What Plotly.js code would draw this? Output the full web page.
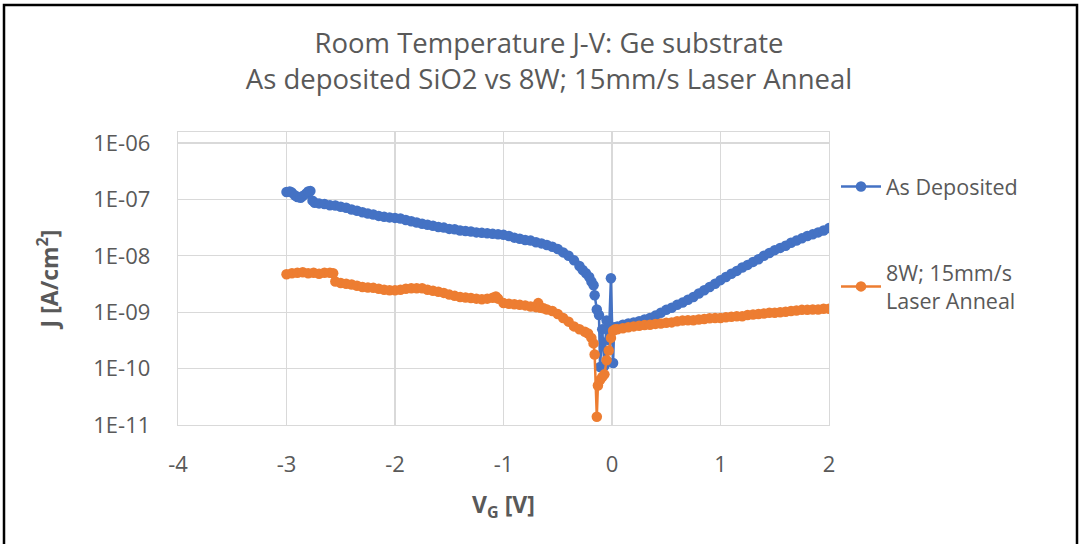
<!DOCTYPE html>
<html>
<head>
<meta charset="utf-8">
<script src="https://cdn.plot.ly/plotly-3.0.1.min.js"></script>
<style>
html,body{margin:0;padding:0;background:#fff;}
#chart{width:1083px;height:544px;}
</style>
</head>
<body>
<div id="chart"></div>
<script>
// ---- Data ----
const seriesNames = ["As Deposited", "8W; 15mm/s<br>Laser Anneal"];

const vAsDep = [-3.00,-2.97,-2.95,-2.92,-2.90,-2.87,-2.85,-2.82,-2.80,-2.78,-2.76,-2.74,-2.70,-2.65,-2.60,-2.55,-2.50,-2.45,-2.40,-2.35,-2.30,-2.25,-2.20,-2.15,-2.10,-2.05,-2.00,-1.95,-1.90,-1.85,-1.80,-1.75,-1.70,-1.65,-1.60,-1.55,-1.50,-1.45,-1.40,-1.35,-1.30,-1.25,-1.20,-1.15,-1.10,-1.05,-1.00,-0.95,-0.90,-0.85,-0.80,-0.75,-0.70,-0.65,-0.60,-0.55,-0.50,-0.45,-0.40,-0.35,-0.30,-0.27,-0.24,-0.21,-0.19,-0.17,-0.16,-0.14,-0.12,-0.11,-0.09,-0.07,-0.05,-0.03,-0.01,0.01,0.02,0.05,0.10,0.15,0.20,0.25,0.30,0.35,0.40,0.45,0.50,0.55,0.60,0.65,0.70,0.75,0.80,0.85,0.90,0.95,1.00,1.05,1.10,1.15,1.20,1.25,1.30,1.35,1.40,1.45,1.50,1.55,1.60,1.65,1.70,1.75,1.80,1.85,1.90,1.95,2.00];
const jAsDep = [1.35e-7,1.38e-7,1.32e-7,1.17e-7,1.10e-7,1.07e-7,1.15e-7,1.26e-7,1.38e-7,1.41e-7,9.5e-8,8.7e-8,8.5e-8,8.3e-8,7.9e-8,7.8e-8,7.4e-8,7.1e-8,6.6e-8,6.3e-8,5.9e-8,5.6e-8,5.4e-8,5.1e-8,4.9e-8,4.8e-8,4.7e-8,4.6e-8,4.3e-8,4.1e-8,3.9e-8,3.7e-8,3.55e-8,3.4e-8,3.25e-8,3.16e-8,3.0e-8,2.95e-8,2.8e-8,2.75e-8,2.7e-8,2.6e-8,2.55e-8,2.5e-8,2.45e-8,2.4e-8,2.35e-8,2.25e-8,2.1e-8,2.0e-8,1.9e-8,1.86e-8,1.74e-8,1.66e-8,1.55e-8,1.45e-8,1.32e-8,1.15e-8,1.0e-8,8.3e-9,6.6e-9,5.6e-9,4.9e-9,4.2e-9,3.5e-9,3.0e-9,2.0e-9,1.12e-9,8.9e-10,1.07e-10,5.0e-10,1.12e-10,7.1e-10,3.2e-10,4.0e-9,1.26e-10,5.4e-10,5.6e-10,6.0e-10,6.3e-10,6.6e-10,6.9e-10,7.4e-10,7.9e-10,8.7e-10,9.8e-10,1.10e-9,1.20e-9,1.35e-9,1.48e-9,1.66e-9,1.86e-9,2.14e-9,2.45e-9,2.8e-9,3.2e-9,3.7e-9,4.2e-9,4.8e-9,5.4e-9,6.2e-9,6.9e-9,7.8e-9,8.7e-9,1.0e-8,1.12e-8,1.26e-8,1.38e-8,1.51e-8,1.70e-8,1.86e-8,2.04e-8,2.24e-8,2.4e-8,2.6e-8,2.8e-8,3.1e-8];

const vLaser = [-3.00,-2.95,-2.90,-2.85,-2.80,-2.75,-2.70,-2.65,-2.60,-2.57,-2.55,-2.50,-2.45,-2.40,-2.35,-2.30,-2.25,-2.20,-2.15,-2.10,-2.05,-2.00,-1.95,-1.90,-1.85,-1.80,-1.75,-1.70,-1.65,-1.60,-1.55,-1.50,-1.45,-1.40,-1.35,-1.30,-1.25,-1.20,-1.15,-1.10,-1.07,-1.05,-1.00,-0.95,-0.90,-0.85,-0.80,-0.75,-0.70,-0.68,-0.66,-0.63,-0.60,-0.55,-0.50,-0.45,-0.40,-0.35,-0.30,-0.25,-0.22,-0.19,-0.17,-0.16,-0.14,-0.13,-0.11,-0.09,-0.07,-0.05,-0.03,-0.01,0.01,0.03,0.05,0.10,0.15,0.20,0.25,0.30,0.35,0.40,0.45,0.50,0.55,0.60,0.65,0.70,0.75,0.80,0.85,0.90,0.95,1.00,1.05,1.10,1.15,1.20,1.25,1.30,1.35,1.40,1.45,1.50,1.55,1.60,1.65,1.70,1.75,1.80,1.85,1.90,1.95,2.00];
const jLaser = [4.7e-9,4.9e-9,5.0e-9,5.1e-9,4.9e-9,5.0e-9,4.8e-9,5.0e-9,5.0e-9,4.9e-9,3.5e-9,3.3e-9,3.2e-9,3.1e-9,2.95e-9,2.8e-9,2.75e-9,2.7e-9,2.6e-9,2.5e-9,2.45e-9,2.45e-9,2.5e-9,2.6e-9,2.65e-9,2.65e-9,2.65e-9,2.5e-9,2.4e-9,2.3e-9,2.2e-9,2.05e-9,1.95e-9,1.86e-9,1.82e-9,1.78e-9,1.74e-9,1.70e-9,1.74e-9,1.80e-9,1.9e-9,1.74e-9,1.45e-9,1.41e-9,1.38e-9,1.35e-9,1.32e-9,1.26e-9,1.23e-9,1.45e-9,1.20e-9,1.17e-9,1.12e-9,1.05e-9,9.3e-10,7.9e-10,6.8e-10,5.6e-10,5.0e-10,4.5e-10,4.2e-10,3.5e-10,2.8e-10,1.78e-10,1.4e-11,5.0e-11,6.3e-11,7.1e-11,7.9e-11,1.41e-10,2.1e-10,3.5e-10,4.7e-10,5.0e-10,5.0e-10,5.2e-10,5.4e-10,5.6e-10,5.75e-10,5.9e-10,6.0e-10,6.2e-10,6.3e-10,6.5e-10,6.6e-10,6.9e-10,7.1e-10,7.2e-10,7.2e-10,7.4e-10,7.6e-10,7.8e-10,7.9e-10,7.9e-10,8.1e-10,8.3e-10,8.5e-10,8.5e-10,8.9e-10,9.1e-10,9.3e-10,9.5e-10,9.8e-10,9.8e-10,1.0e-9,1.02e-9,1.05e-9,1.07e-9,1.10e-9,1.10e-9,1.12e-9,1.12e-9,1.15e-9,1.15e-9];

const yTickVals = [1e-11,1e-10,1e-9,1e-8,1e-7,1e-6];
const yTickText = ["1E-11","1E-10","1E-09","1E-08","1E-07","1E-06"];
const xTickVals = [-4,-3,-2,-1,0,1,2];
const xTickText = ["-4","-3","-2","-1","0","1","2"];

const titleText = "Room Temperature J-V: Ge substrate<br>As deposited SiO2 vs 8W; 15mm/s Laser Anneal";
const xTitle = "<b>V<sub>G</sub> [V]</b>";
const yTitle = "<b>J [A/cm<sup>2</sup>]</b>";

// ---- Styling ----
const FONT = "Open Sans, Noto Sans, sans-serif";
const GREY = "#595959";
const BLUE = "#4472C4";
const ORANGE = "#ED7D31";

const traces = [
  {x: vAsDep, y: jAsDep, name: seriesNames[0], type: "scatter", mode: "lines+markers",
   legendgroup: "a",
   line: {color: BLUE, width: 2.5}, marker: {color: BLUE, size: 10.5}},
  {x: vLaser, y: jLaser, name: seriesNames[1], type: "scatter", mode: "lines+markers",
   legendgroup: "b",
   line: {color: ORANGE, width: 2.5}, marker: {color: ORANGE, size: 10.5}}
];

// plot area: x 178..829, y 132..425
const L = 178, R = 1083 - 829, T = 132, B = 544 - 425;
const pw = 1083 - L - R, ph = 544 - T - B;
function px2paperX(p){ return (p - L) / pw; }
function px2paperY(p){ return (544 - B - p) / ph; }

const layout = {
  width: 1083, height: 544,
  paper_bgcolor: "#fff", plot_bgcolor: "#fff",
  margin: {l: L, r: R, t: T, b: B, pad: 0},
  font: {family: FONT, color: GREY, size: 22},
  title: {text: titleText, font: {family: FONT, size: 27.5, color: GREY},
          x: 549/1083, xref: "container", xanchor: "center",
          y: 1 - 53/544, yref: "container", yanchor: "top"},
  showlegend: true,
  legend: {x: px2paperX(836), xanchor: "left", y: px2paperY(166), yanchor: "top",
           font: {family: FONT, size: 21.5, color: GREY}, bgcolor: "rgba(0,0,0,0)",
           tracegroupgap: 55, itemwidth: 40},
  xaxis: {type: "linear", range: [-4, 2], tickvals: xTickVals, ticktext: xTickText,
          showgrid: true, gridcolor: "#d9d9d9", gridwidth: 1.3, zeroline: false,
          showline: true, linecolor: "#d9d9d9", linewidth: 1.3, mirror: true,
          ticks: "", ticklabelstandoff: 19,
          tickfont: {family: FONT, size: 22, color: GREY},
          title: {text: xTitle, font: {family: FONT, size: 23, color: GREY}, standoff: 20},
          automargin: false, fixedrange: true},
  yaxis: {type: "log", range: [-11, -5.805], tickvals: yTickVals, ticktext: yTickText,
          showgrid: true, gridcolor: "#d9d9d9", gridwidth: 1.3, zeroline: false,
          showline: true, linecolor: "#d9d9d9", linewidth: 1.3, mirror: true,
          ticks: "", ticklabelstandoff: 22,
          tickfont: {family: FONT, size: 22, color: GREY},
          title: {text: yTitle, font: {family: FONT, size: 23, color: GREY}, standoff: 28},
          automargin: false, fixedrange: true},
  shapes: [
    {type: "rect", xref: "paper", yref: "paper", layer: "above",
     x0: px2paperX(4), x1: px2paperX(1077), y0: px2paperY(560), y1: px2paperY(5),
     line: {color: "#000", width: 2.5}, fillcolor: "rgba(0,0,0,0)"}
  ]
};

Plotly.newPlot("chart", traces, layout, {displayModeBar: false, staticPlot: true});
</script>
</body>
</html>
